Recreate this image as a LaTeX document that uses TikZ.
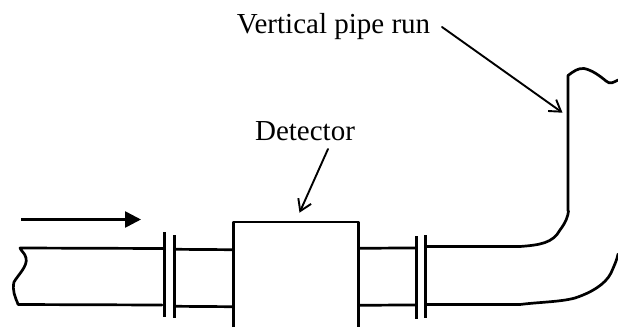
\documentclass[tikz,border=0pt]{standalone}
\usepackage{fontspec}
\setmainfont{Liberation Serif}
\usetikzlibrary{arrows.meta}
\tikzset{
  pipeline/.style={line width=2.7pt, line cap=round, line join=round},
  flange/.style={line width=2.2pt},
  leader/.style={line width=1.9pt, line cap=round, -{Straight Barb[length=11pt,width=14pt,line width=1.9pt]}},
  flowarrow/.style={line width=2.6pt, -{Triangle[length=16pt,width=16pt]}},
  labeltext/.style={font=\fontsize{29}{29}\selectfont, inner sep=0pt, anchor=base}
}
\begin{document}
\begin{tikzpicture}[x=1pt, y=-1pt]
    \useasboundingbox (0,0) rectangle (618,327);
    \node[labeltext] (pipelabel) at (333.5,33) {Vertical pipe run};
    \node[labeltext] (detlabel) at (305,140) {Detector};
    \coordinate (pipepoint) at (562.5,112.7);
    \coordinate (detpoint) at (299.5,212.7);
    \draw[leader] (442,27) -- (pipepoint);
    \draw[leader] (328,149) -- (detpoint);
    \coordinate (flowstart) at (21,219.5);
    \coordinate (flowend) at (141,219.5);
    \draw[flowarrow] (flowstart) -- (flowend);
    % detector, open at the bottom
    \draw[pipeline, line cap=butt] (233.5,327) -- (233.5,222) -- (358.5,222) -- (358.5,327);
    % left pipe with broken end
    \draw[pipeline] (18,304) .. controls (15,297) and (12,290) .. (14,282)
        .. controls (18,275) and (28,266) .. (26,258)
        .. controls (25,253) and (21,251) .. (20,248) -- (163,248.5);
    \draw[pipeline] (18,304.5) -- (162,305);
    \draw[pipeline] (176,249.3) -- (232,249.7);
    \draw[pipeline] (176,306.3) -- (232,306.7);
    % right pipe and bend
    \draw[pipeline] (360,248.3) -- (415,247.9);
    \draw[pipeline] (360,305.3) -- (415,304.9);
    \draw[pipeline] (427,246.5) -- (520,246.5)
        .. controls (540,245) and (553,243) .. (560,230)
        .. controls (566,222) and (568,216) .. (568.5,211);
    \draw[pipeline] (568,211) -- (568,75.5)
        .. controls (574,71) and (578,68) .. (584,68.5)
        .. controls (592,70) and (600,76) .. (606,81)
        .. controls (610,85) and (614,82) .. (618,80);
    \draw[pipeline] (427,304.5) -- (520,304.5)
        .. controls (540,302) and (560,302) .. (575,298)
        .. controls (590,293) and (605,285) .. (611,273)
        .. controls (614,266) and (617,260) .. (618,254);
    % flanges
    \draw[flange] (164.5,232) -- (164.5,317);
    \draw[flange] (174.5,235) -- (174.5,318);
    \draw[flange] (416.5,236) -- (416.5,319);
    \draw[flange] (425.5,235) -- (425.5,318);
\end{tikzpicture}
\end{document}
